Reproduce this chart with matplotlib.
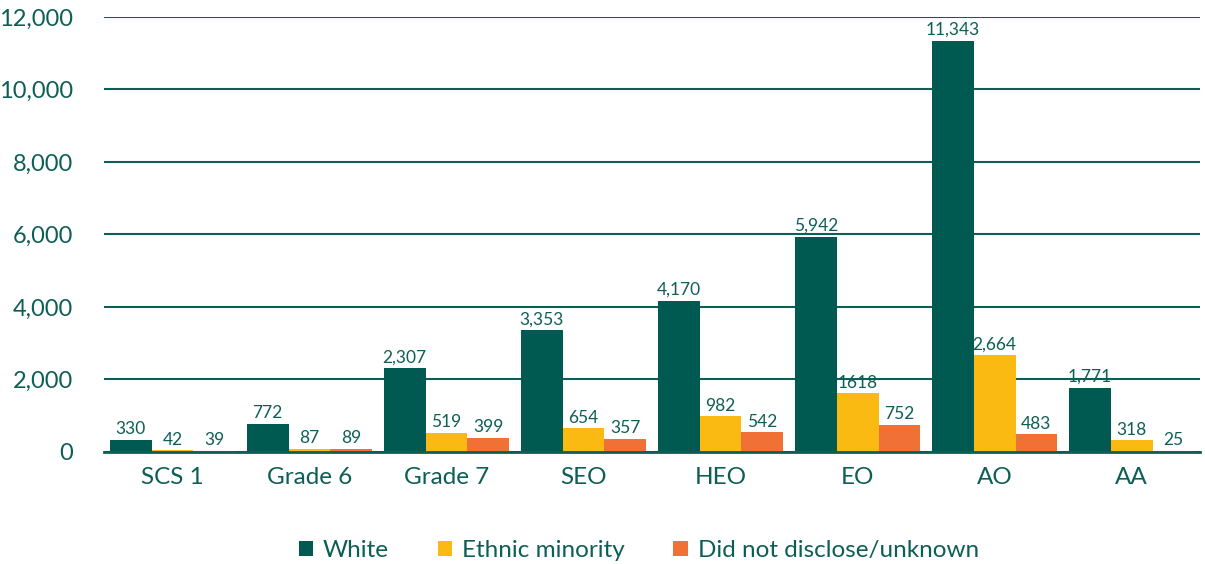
import numpy as np
import matplotlib.pyplot as plt

categories = ["SCS 1", "Grade 6", "Grade 7", "SEO", "HEO", "EO", "AO", "AA"]
white = [330, 772, 2307, 3353, 4170, 5942, 11343, 1771]
minority = [42, 87, 519, 654, 982, 1618, 2664, 318]
unknown = [39, 89, 399, 357, 542, 752, 483, 25]
minority_labels = ["42", "87", "519", "654", "982", "1618", "2,664", "318"]

series_names = ["White", "Ethnic minority", "Did not disclose/unknown"]
colours = ["#005A51", "#FBBA12", "#F07036"]
text_col = "#0D5F56"

plt.rcParams['font.family'] = ['Lato', 'DejaVu Sans']

fig = plt.figure(figsize=(12.05, 5.64), dpi=100)
ax = fig.add_axes([0.0863, 0.1986, 0.9097, 0.7713])

x = np.arange(len(categories))
w = 0.305
series = [white, minority, unknown]
labels = [[f"{v:,}" for v in white], minority_labels, [f"{v:,}" for v in unknown]]
for i, (vals, name, col, labs) in enumerate(zip(series, series_names, colours, labels)):
    bars = ax.bar(x + (i - 1) * w, vals, w, color=col, label=name, zorder=3)
    ax.bar_label(bars, labels=labs, padding=2, fontsize=12.5, color=text_col)

ax.set_ylim(0, 12000)
ax.set_xlim(-0.5, len(categories) - 0.5)
ax.set_yticks(range(0, 12001, 2000))
ax.set_yticklabels([f"{v:,}" for v in range(0, 12001, 2000)])
ax.set_xticks(x)
ax.set_xticklabels(categories)
ax.tick_params(axis='both', length=0, labelsize=17, colors=text_col)
ax.tick_params(axis='y', pad=22)
ax.tick_params(axis='x', pad=11, labelsize=17.5)
ax.grid(axis='y', color="#0D5F56", linewidth=1.5, zorder=0)
for s in ["top", "right", "left"]:
    ax.spines[s].set_visible(False)
ax.spines["bottom"].set_color("#0D5F56")
ax.spines["bottom"].set_linewidth(2)
ax.spines["bottom"].set_zorder(4)

leg = fig.legend(loc="center", bbox_to_anchor=(0.53, 0.024), ncol=3, frameon=False,
                 fontsize=17.5, handlelength=0.6, handleheight=0.6, handletextpad=0.4,
                 columnspacing=2.0)
for t in leg.get_texts():
    t.set_color(text_col)

fig.savefig("out.png", dpi=100)
